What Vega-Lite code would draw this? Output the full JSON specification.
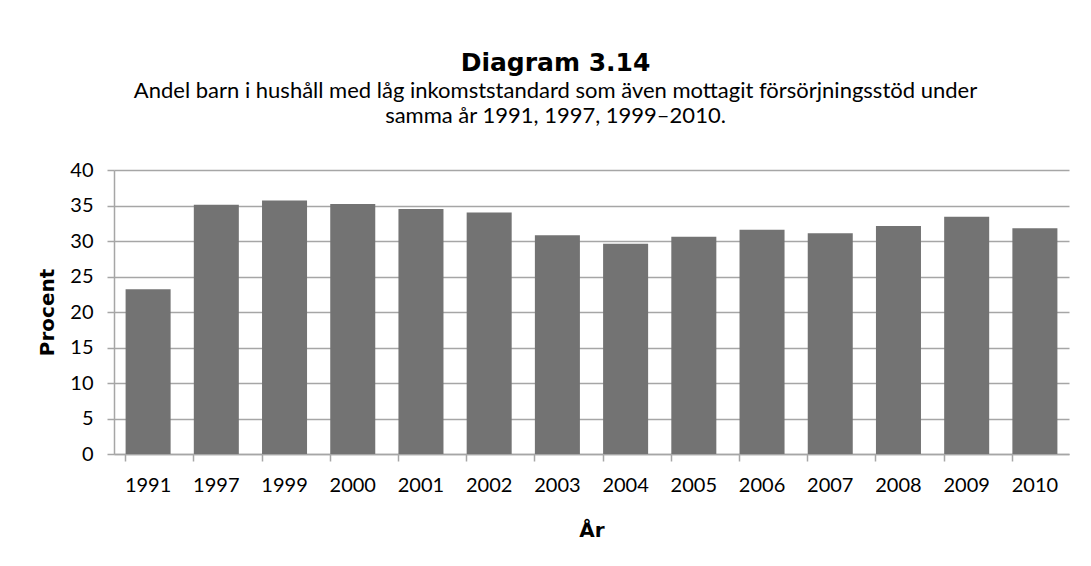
{
  "$schema": "https://vega.github.io/schema/vega-lite/v6.json",
  "width": 955,
  "height": 284,
  "autosize": {"type": "none"},
  "padding": {"left": 114, "top": 170, "right": 22, "bottom": 112},
  "background": "white",
  "title": {
    "text": "Diagram 3.14",
    "subtitle": ["Andel barn i hushåll med låg inkomststandard som även mottagit försörjningsstöd under", "samma år 1991, 1997, 1999–2010."],
    "anchor": "middle",
    "frame": "group",
    "dx": -36,
    "offset": 33,
    "font": "DejaVu Sans",
    "fontSize": 25,
    "fontWeight": "bold",
    "color": "black",
    "subtitleFont": "Lato",
    "subtitleFontSize": 22,
    "subtitleColor": "black",
    "subtitlePadding": 5,
    "subtitleLineHeight": 25
  },
  "data": {
    "values": [
      {"year": "1991", "value": 23.2},
      {"year": "1997", "value": 35.1},
      {"year": "1999", "value": 35.7},
      {"year": "2000", "value": 35.2},
      {"year": "2001", "value": 34.5},
      {"year": "2002", "value": 34.0},
      {"year": "2003", "value": 30.8},
      {"year": "2004", "value": 29.6},
      {"year": "2005", "value": 30.6},
      {"year": "2006", "value": 31.6},
      {"year": "2007", "value": 31.1},
      {"year": "2008", "value": 32.1},
      {"year": "2009", "value": 33.4},
      {"year": "2010", "value": 31.8}
    ]
  },
  "mark": {"type": "bar", "color": "#737373"},
  "encoding": {
    "x": {
      "field": "year",
      "type": "ordinal",
      "sort": null,
      "scale": {"paddingInner": 0.34, "paddingOuter": 0.17},
      "axis": {
        "title": "År",
        "labelAngle": 0,
        "bandPosition": 0,
        "tickSize": 7,
        "labelPadding": 14,
        "titlePadding": 25,
        "grid": false
      }
    },
    "y": {
      "field": "value",
      "type": "quantitative",
      "scale": {"domain": [0, 40]},
      "axis": {
        "title": "Procent",
        "values": [0, 5, 10, 15, 20, 25, 30, 35, 40],
        "tickSize": 7,
        "labelPadding": 14,
        "titlePadding": 12,
        "grid": true
      }
    }
  },
  "config": {
    "view": {"stroke": null},
    "axis": {
      "labelFont": "Lato",
      "labelFontSize": 20,
      "labelColor": "black",
      "titleFont": "DejaVu Sans",
      "titleFontSize": 20,
      "titleFontWeight": "bold",
      "titleColor": "black",
      "domainColor": "#a6a6a6",
      "domainWidth": 1.5,
      "tickColor": "#a6a6a6",
      "tickWidth": 1.5,
      "gridColor": "#a6a6a6",
      "gridWidth": 1.5
    }
  }
}
